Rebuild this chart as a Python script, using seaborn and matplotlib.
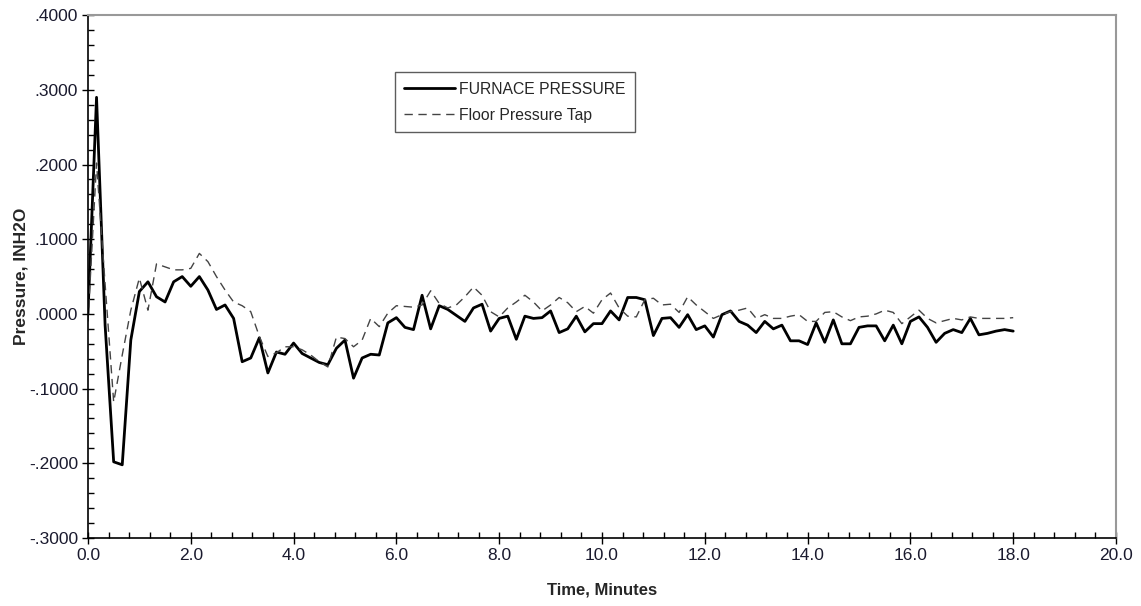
import seaborn as sns
import matplotlib.pyplot as plt
import matplotlib.ticker as mticker
import numpy as np
import pandas as pd

# readings every 10 seconds, 0 to 18 minutes
furnace = [0.000, 0.290, -0.015, -0.198, -0.202, -0.035, 0.030, 0.043, 0.023, 0.016,
           0.043, 0.050, 0.037, 0.050, 0.032, 0.006, 0.012, -0.006, -0.064, -0.059,
           -0.032, -0.079, -0.051, -0.054, -0.039, -0.053, -0.059, -0.065, -0.068, -0.046,
           -0.035, -0.086, -0.059, -0.054, -0.055, -0.012, -0.005, -0.018, -0.021, 0.025,
           -0.020, 0.011, 0.006, -0.002, -0.010, 0.008, 0.013, -0.023, -0.006, -0.003,
           -0.034, -0.003, -0.006, -0.005, 0.004, -0.025, -0.020, -0.003, -0.024, -0.013,
           -0.013, 0.004, -0.008, 0.022, 0.022, 0.019, -0.029, -0.006, -0.005, -0.018,
           -0.001, -0.021, -0.016, -0.031, -0.001, 0.004, -0.010, -0.015, -0.025, -0.010,
           -0.020, -0.015, -0.036, -0.036, -0.041, -0.012, -0.038, -0.008, -0.040, -0.040,
           -0.018, -0.016, -0.016, -0.036, -0.015, -0.040, -0.010, -0.004, -0.018, -0.038,
           -0.026, -0.021, -0.025, -0.006, -0.028, -0.026, -0.023, -0.021, -0.023]
floor_tap = [-0.010, 0.202, 0.040, -0.118, -0.055, 0.005, 0.048, 0.005, 0.067, 0.063,
             0.059, 0.059, 0.061, 0.081, 0.070, 0.050, 0.032, 0.016, 0.011, 0.003,
             -0.030, -0.057, -0.052, -0.044, -0.044, -0.048, -0.055, -0.064, -0.071, -0.031,
             -0.033, -0.044, -0.035, -0.006, -0.017, 0.001, 0.011, 0.010, 0.009, 0.012,
             0.031, 0.014, 0.008, 0.012, 0.023, 0.036, 0.025, 0.003, -0.004, 0.008,
             0.016, 0.025, 0.016, 0.004, 0.012, 0.022, 0.015, 0.003, 0.010, 0.001,
             0.019, 0.028, 0.008, -0.003, -0.004, 0.019, 0.021, 0.012, 0.013, 0.002,
             0.023, 0.012, 0.003, -0.006, -0.001, 0.003, 0.005, 0.008, -0.006, -0.001,
             -0.006, -0.006, -0.003, -0.001, -0.010, -0.010, 0.002, 0.003, -0.004, -0.009,
             -0.004, -0.003, 0.000, 0.005, 0.002, -0.013, -0.004, 0.005, -0.006, -0.012,
             -0.009, -0.006, -0.008, -0.004, -0.006, -0.006, -0.006, -0.006, -0.005]
minutes = np.arange(len(furnace)) / 6.0

df = pd.DataFrame({"Time": minutes, "FURNACE PRESSURE": furnace, "Floor Pressure Tap": floor_tap})

sns.set_style("white")
plt.rcParams['font.family'] = ['Liberation Sans', 'DejaVu Sans']

fig = plt.figure(figsize=(11.41, 6.06), dpi=100)
ax = fig.add_axes([0.0771, 0.1122, 0.901, 0.8628])

sns.lineplot(data=df, x="Time", y="FURNACE PRESSURE", ax=ax, color="black", linewidth=2.0,
             label="FURNACE PRESSURE")
sns.lineplot(data=df, x="Time", y="Floor Pressure Tap", ax=ax, color="#444444", linewidth=1.0,
             label="Floor Pressure Tap", dashes=False)
ax.lines[1].set_dashes([6, 4])

ax.set_xlim(0, 20)
ax.set_ylim(-0.3, 0.4)
ax.xaxis.set_major_locator(mticker.MultipleLocator(2))
ax.xaxis.set_minor_locator(mticker.MultipleLocator(0.4))
ax.yaxis.set_major_locator(mticker.MultipleLocator(0.1))
ax.yaxis.set_minor_locator(mticker.MultipleLocator(0.02))
ax.xaxis.set_major_formatter(mticker.FuncFormatter(lambda v, p: f"{v:.1f}"))


def yfmt(v, p):
    s = f"{v:.4f}"
    if abs(v) < 1e-9:
        return ".0000"
    return s.replace("0.", ".", 1)


ax.yaxis.set_major_formatter(mticker.FuncFormatter(yfmt))
ax.tick_params(which="major", direction="inout", length=8, width=1, colors="black",
               labelsize=12.5, labelcolor="#1a1a2e", bottom=True, left=True, pad=3)
ax.tick_params(which="minor", direction="in", length=4, width=1, colors="black",
               bottom=True, left=True)

for side in ["left", "bottom"]:
    ax.spines[side].set_color("black")
    ax.spines[side].set_linewidth(1.2)
for side in ["top", "right"]:
    ax.spines[side].set_color("#999999")
    ax.spines[side].set_linewidth(1.5)

ax.set_xlabel("Time, Minutes", fontsize=12, fontweight="bold", labelpad=14)
ax.set_ylabel("Pressure, INH2O", fontsize=12.5, fontweight="bold", labelpad=0)

leg = ax.legend(loc="upper left", bbox_to_anchor=(0.2986, 0.891), frameon=True, fancybox=False,
                fontsize=11.3, handlelength=3.2, borderpad=0.6, labelspacing=0.7,
                handletextpad=0.3, borderaxespad=0)
leg.get_frame().set_edgecolor("#333333")
leg.get_frame().set_linewidth(1.0)

fig.savefig("out.png", dpi=100)
